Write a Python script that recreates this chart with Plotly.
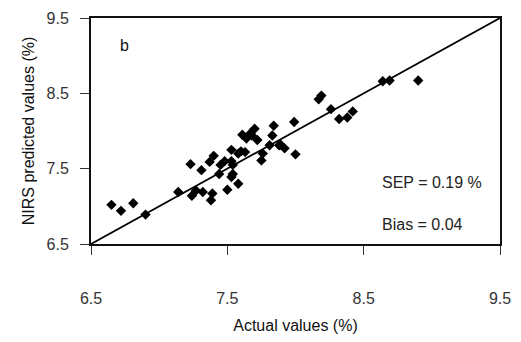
import plotly.graph_objects as go

actual = [6.65, 6.72, 6.81, 6.90, 7.14, 7.23, 7.24, 7.27, 7.31, 7.32,
          7.37, 7.40, 7.39, 7.38, 7.44, 7.45, 7.48, 7.50, 7.53, 7.53,
          7.54, 7.54, 7.53, 7.58, 7.58, 7.61, 7.63, 7.64, 7.68, 7.72,
          7.75, 7.76, 7.81, 7.83, 7.88, 7.92, 8.00, 7.70, 7.67, 7.84,
          7.99, 8.17, 8.19, 8.26, 8.32, 8.38, 8.42, 8.64, 8.69, 8.90,
          7.89, 7.60]
predicted = [7.02, 6.94, 7.04, 6.89, 7.19, 7.56, 7.14, 7.21, 7.48, 7.19,
             7.59, 7.67, 7.17, 7.08, 7.43, 7.55, 7.60, 7.22, 7.75, 7.60,
             7.55, 7.43, 7.39, 7.30, 7.70, 7.95, 7.72, 7.90, 7.94, 7.88,
             7.61, 7.70, 7.81, 7.94, 7.81, 7.77, 7.69, 8.03, 7.97, 8.07,
             8.12, 8.42, 8.47, 8.29, 8.16, 8.18, 8.26, 8.66, 8.67, 8.67,
             7.82, 7.73]
line_x = [6.5, 9.5]
line_y = [6.5, 9.5]
ticks = [6.5, 7.5, 8.5, 9.5]
tick_labels = ["6.5", "7.5", "8.5", "9.5"]

font = "Liberation Sans, Arial, sans-serif"

fig = go.Figure()
fig.add_trace(go.Scatter(x=line_x, y=line_y, mode="lines",
                         line=dict(color="black", width=1.8), showlegend=False))
fig.add_trace(go.Scatter(x=actual, y=predicted, mode="markers",
                         marker=dict(symbol="diamond", size=8, color="black"),
                         showlegend=False))

fig.update_layout(
    width=521, height=342,
    margin=dict(l=91, r=19, t=10, b=91),
    paper_bgcolor="white", plot_bgcolor="white",
    font=dict(family=font, size=16, color="#333"),
    xaxis=dict(range=[6.5, 9.5], tickvals=ticks, ticktext=tick_labels,
               showgrid=False, zeroline=False, showline=True, linecolor="#111",
               linewidth=2, mirror=True, ticks="outside", ticklen=9, tickwidth=1,
               tickcolor="#333", ticklabelstandoff=30, ticklabeloverflow="allow",
               title=dict(text="Actual values (%)", standoff=14,
                          font=dict(size=16, color="#111"))),
    yaxis=dict(range=[6.5, 9.5], tickvals=ticks, ticktext=tick_labels,
               showgrid=False, zeroline=False, showline=True, linecolor="#111",
               linewidth=2, mirror=True, ticks="outside", ticklen=9, tickwidth=1,
               tickcolor="#333", ticklabelstandoff=8, ticklabeloverflow="allow",
               title=dict(text="NIRS predicted values (%)", standoff=8,
                          font=dict(size=16, color="#111"))),
    annotations=[
        dict(text="b", xref="paper", yref="paper", x=0.065, y=0.88,
             showarrow=False, xanchor="left", yanchor="middle",
             font=dict(size=16, color="#111")),
        dict(text="SEP = 0.19 %", xref="paper", yref="paper", x=0.707, y=0.27,
             showarrow=False, xanchor="left", yanchor="middle",
             font=dict(size=16, color="#222")),
        dict(text="Bias = 0.04", xref="paper", yref="paper", x=0.707, y=0.085,
             showarrow=False, xanchor="left", yanchor="middle",
             font=dict(size=16, color="#222")),
    ],
)
fig.write_html("out.html", config={"displayModeBar": False},
               post_script="document.body.style.margin='0';document.body.style.overflow='hidden';")
